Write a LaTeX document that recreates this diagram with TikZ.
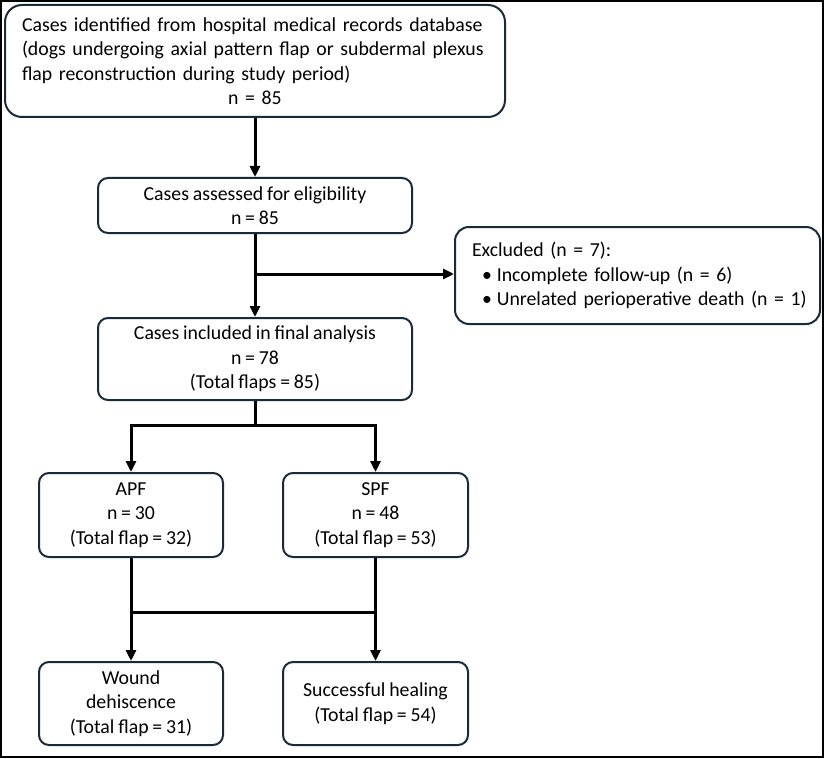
\documentclass[tikz,border=0pt]{standalone}
\usepackage{fontspec}
\setmainfont{Carlito}[WordSpace=0.85]
\usetikzlibrary{arrows.meta}
\definecolor{boxline}{HTML}{1B2A3A}

\begin{document}
\begin{tikzpicture}[x=1pt,y=-1pt,
	flowbox/.style={draw=boxline,line width=2pt,rounded corners=10pt,fill=white,inner sep=0pt,align=center,
		font=\fontsize{19.8}{24.5}\selectfont},
	flowarrow/.style={line width=3pt,-{Triangle[length=11pt,width=10pt]}},
	flowline/.style={line width=3pt}]
		\useasboundingbox (0,0) rectangle (826,759);
		\draw[line width=2pt] (1,1) rectangle (823,757);
		% boxes
		\node[flowbox,minimum width=500pt,minimum height=112pt,text width=466pt,align=left,rounded corners=17pt] (identified) at (255,61)
			{Cases identified from hospital medical records database\\
			(dogs undergoing axial pattern flap or subdermal plexus\\
			flap reconstruction during study period)\\
			\makebox[\linewidth][c]{n = 85}};
		\node[flowbox,minimum width=314pt,minimum height=55pt] (assessed) at (255,205.5)
			{Cases assessed for eligibility\\ n = 85};
		\node[flowbox,minimum width=365pt,minimum height=97pt,text width=331pt,align=left,rounded corners=14pt] (excluded) at (637.5,275.5)
			{Excluded (n = 7):\\
			\hspace*{10pt}\textbullet\hspace{5pt}Incomplete follow-up (n = 6)\\
			\hspace*{10pt}\textbullet\hspace{5pt}\mbox{Unrelated perioperative death (n = 1)}};
		\node[flowbox,minimum width=314pt,minimum height=82pt] (included) at (255,359)
			{Cases included in final analysis\\ n = 78\\ (Total flaps = 85)};
		\node[flowbox,minimum width=184pt,minimum height=84pt] (apf) at (131,515)
			{APF\\ n = 30\\ (Total flap = 32)};
		\node[flowbox,minimum width=185pt,minimum height=84pt] (spf) at (375.5,515)
			{SPF\\ n = 48\\ (Total flap = 53)};
		\node[flowbox,minimum width=184pt,minimum height=83pt] (dehiscence) at (131,703.5)
			{Wound\\ dehiscence\\ (Total flap = 31)};
		\node[flowbox,minimum width=185pt,minimum height=83pt] (healing) at (375.5,703.5)
			{Successful healing\\ (Total flap = 54)};
		% connectors
		\draw[flowarrow] (identified.south) -- (assessed.north);
		\draw[flowarrow] (assessed.south) -- (included.north);
		\coordinate (split) at (255,274);
		\draw[flowarrow] (split) -- (split -| excluded.west);
		\coordinate (fork) at (255,425);
		\draw[flowline] (included.south) -- (fork);
		\draw[flowarrow] (fork) -| (apf.north);
		\draw[flowarrow] (fork) -| (spf.north);
		\draw[flowarrow] (apf.south) -- (dehiscence.north);
		\draw[flowarrow] (spf.south) -- (healing.north);
		\coordinate (join) at (131,612);
		\draw[flowline] (join) -- (join -| spf.south);
\end{tikzpicture}
\end{document}
